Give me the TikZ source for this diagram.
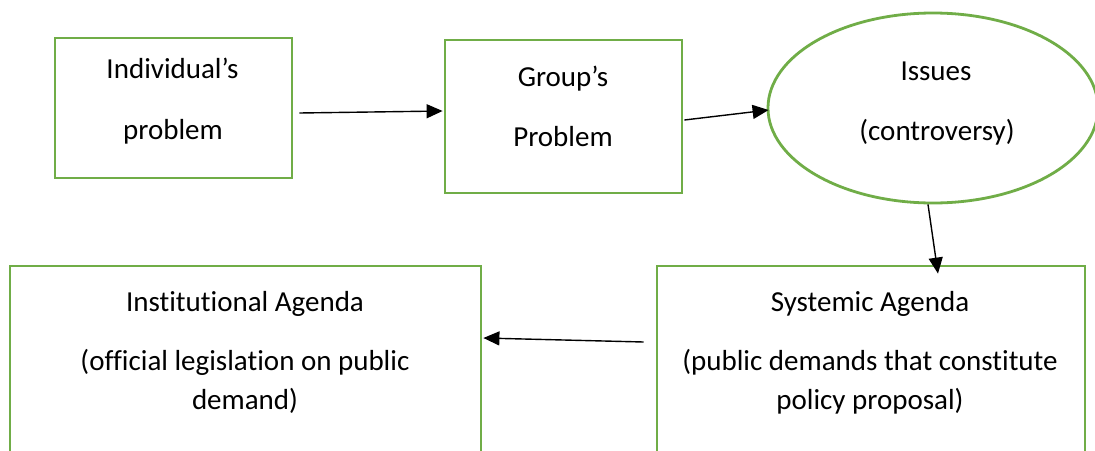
\documentclass[tikz,border=0pt]{standalone}
\usepackage{fontspec}
\setmainfont{Carlito}[Ligatures={NoCommon,NoContextual}]
\usetikzlibrary{arrows.meta,shapes.geometric,calc}
\definecolor{boxgreen}{HTML}{70AD47}
\begin{document}
\begin{tikzpicture}[x=1pt,y=-1pt,
  box/.style={draw=boxgreen,line width=2.8pt,rectangle,inner sep=0pt},
  oval/.style={draw=boxgreen,line width=2.8pt,ellipse,inner sep=0pt},
  txt/.style={anchor=base,inner sep=0pt,font=\fontsize{29}{35}\selectfont},
  conn/.style={line width=1.4pt,-{Triangle[length=16pt,width=14pt]}}]
\useasboundingbox (0,0) rectangle (1095,450);
\clip (0,0) rectangle (1095,450);
\fill[white] (0,0) rectangle (1095,450);
% shapes
\node[box,minimum width=237pt,minimum height=140pt] (b1) at (173.5,108) {};
\node[box,minimum width=237pt,minimum height=153pt] (b2) at (563.5,116.5) {};
\node[oval,minimum width=330pt,minimum height=190pt] (e) at (933,108) {};
\node[box,minimum width=471pt,minimum height=204pt] (b3) at (245.5,368) {};
\node[box,minimum width=428pt,minimum height=204pt] (b4) at (871,368) {};
% texts
\node[txt] (t1a) at (172.5,78) {Individual’s};
\node[txt] (t1b) at (173,139) {problem};
\node[txt] (t2a) at (563,86) {Group’s};
\node[txt] (t2b) at (563,146) {Problem};
\node[txt] (tea) at (936,80) {Issues};
\node[txt] (teb) at (937,140) {(controversy)};
\node[txt] (t3a) at (245,311) {Institutional Agenda};
\node[txt] (t3b) at (245,370) {(official legislation on public};
\node[txt] (t3c) at (245,409) {demand)};
\node[txt] (t4a) at (870,311) {Systemic Agenda};
\node[txt] (t4b) at (870,370) {(public demands that constitute};
\node[txt] (t4c) at (870,409) {policy proposal)};
% connectors
\draw[conn] ([shift={(6,5)}]b1.east) -- ([shift={(-1,-5.5)}]b2.west);
\draw[conn] ([shift={(1,3.5)}]b2.east) -- ([shift={(2,2)}]e.west);
\draw[conn] ([shift={(-5,0)}]e.south) -- ([shift={(67,9)}]b4.north);
\draw[conn] ([shift={(-12,-26)}]b4.west) -- ([shift={(1,-30)}]b3.east);
\end{tikzpicture}
\end{document}
